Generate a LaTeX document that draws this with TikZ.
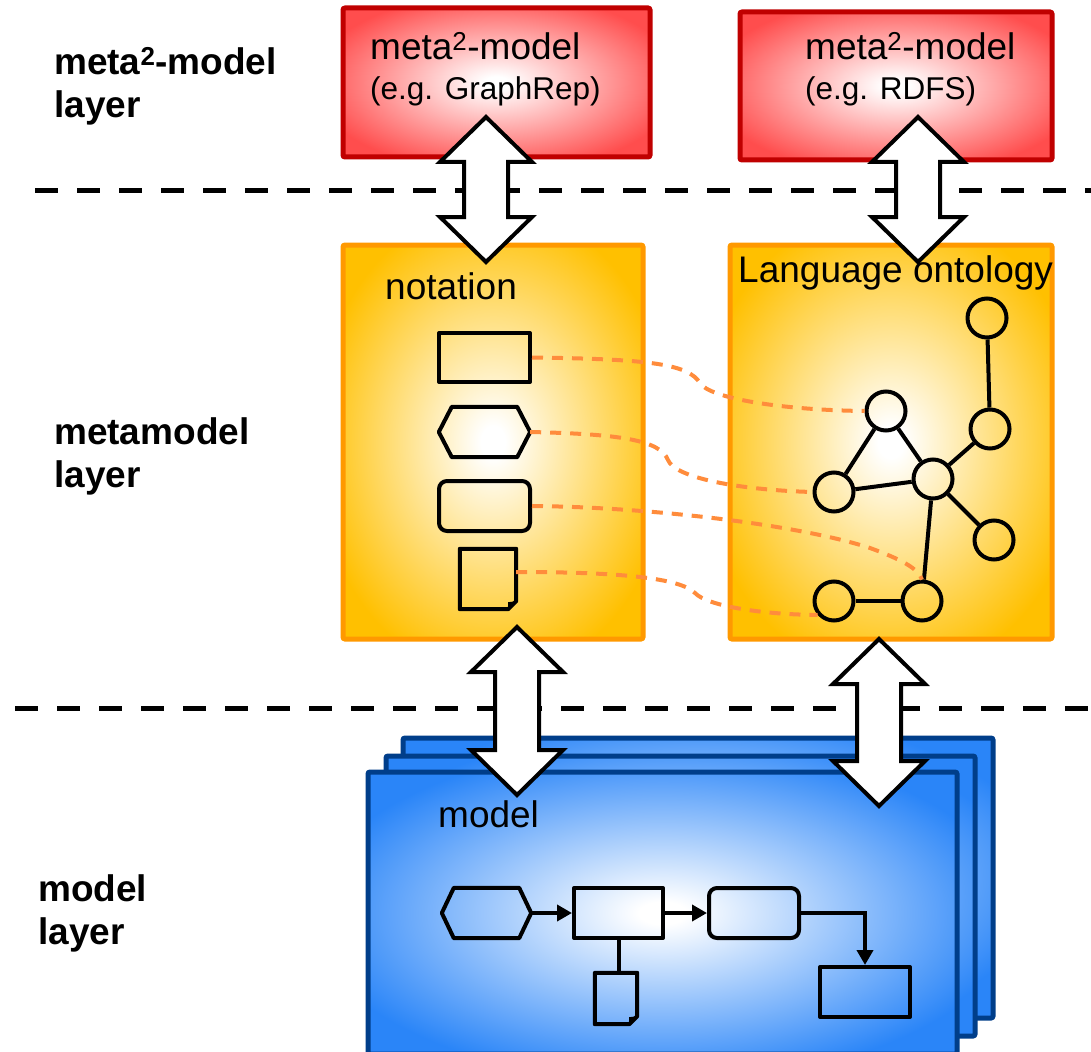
\documentclass[tikz,border=0pt]{standalone}
\usepackage{fontspec}
\setmainfont{Liberation Sans}
\usetikzlibrary{arrows.meta,calc}
\definecolor{redfill}{HTML}{FF4D4D}
\definecolor{redborder}{HTML}{C00000}
\definecolor{orfill}{HTML}{FFC000}
\definecolor{orborder}{HTML}{FF9900}
\definecolor{bluefill}{HTML}{2A85F8}
\definecolor{blueborder}{HTML}{003E8A}
\definecolor{dashor}{HTML}{FF8C3C}
\pgfdeclareradialshading{redrad}{\pgfpoint{0bp}{0bp}}{color(0bp)=(white); color(2bp)=(white); color(30bp)=(redfill); color(50bp)=(redfill)}
\pgfdeclareradialshading{orrad}{\pgfpoint{0bp}{0bp}}{color(0bp)=(white); color(2bp)=(white); color(30bp)=(orfill); color(50bp)=(orfill)}
\pgfdeclareradialshading{bluerad}{\pgfpoint{0bp}{0bp}}{color(0bp)=(white); color(2bp)=(white); color(30bp)=(bluefill); color(50bp)=(bluefill)}
\newcommand\bigdarrow[3]{\draw[bigarr] (#1,#2) -- ++(46,45) -- ++(-24,0) -- (#1+22,#3-45) -- ++(24,0) -- (#1,#3) -- ++(-46,-45) -- ++(24,0) -- (#1-22,#2+45) -- ++(-24,0) -- cycle;}
\newcommand\hexon[2]{\draw[shp] (#1.west) -- ($(#1.north west)+(#2,0)$) -- ($(#1.north east)+(-#2,0)$) -- (#1.east) -- ($(#1.south east)+(-#2,0)$) -- ($(#1.south west)+(#2,0)$) -- cycle;}
\newcommand\docon[1]{\draw[shp] (#1.north west) -- (#1.north east) -- ($(#1.south east)+(0,-8)$) -- ($(#1.south east)+(-8,0)$) -- (#1.south west) -- cycle;
  \fill ($(#1.south east)+(0,-8)$) -- ($(#1.south east)+(-8,0)$) -- ($(#1.south east)+(-8,-7)$) -- cycle;}
\begin{document}
\begin{tikzpicture}[x=1pt,y=-1pt,
  layerlbl/.style={font=\fontsize{37}{43}\selectfont\bfseries, align=left, anchor=base west, inner sep=0},
  boxtxt/.style={font=\fontsize{37}{40}\selectfont, align=left, anchor=base west, inner sep=0},
  sepline/.style={line width=5pt, dash pattern=on 23pt off 19pt},
  redbox/.style={draw=redborder, line width=5pt, shade, shading=redrad, rounded corners=2pt},
  orbox/.style={draw=orborder, line width=5pt, shade, shading=orrad, rounded corners=2pt},
  bluebox/.style={draw=blueborder, line width=5pt, shade, shading=bluerad, rounded corners=2pt},
  shp/.style={draw=black, line width=4pt, line join=round},
  ghost/.style={inner sep=0, draw=none},
  rbox/.style={shp, inner sep=0},
  circ/.style={circle, draw=black, line width=4pt, minimum size=39pt, inner sep=0},
  edge/.style={line width=4pt},
  link/.style={draw=dashor, line width=4pt, dash pattern=on 11pt off 9pt},
  flow/.style={line width=4pt, -{Triangle[length=15pt,width=16pt]}},
  bigarr/.style={draw=black, fill=white, line width=4pt, line join=miter}
]
\useasboundingbox (0,0) rectangle (1091,1051);
\fill[white] (0,0) rectangle (1091,1051);

% layer separators
\coordinate (s1a) at (35,190);
\coordinate (s1b) at (1091,190);
\coordinate (s2a) at (15,708);
\coordinate (s2b) at (1091,708);
\draw[sepline] (s1a) -- (s1b);
\draw[sepline] (s2a) -- (s2b);

% layer labels (anchor = baseline of last line)
\node[layerlbl] (lab1) at (54,118) {meta\textsuperscript{2}-model\\layer};
\node[layerlbl] (lab2) at (54,487) {metamodel\\layer};
\node[layerlbl] (lab3) at (38,944) {model\\layer};

% meta2-model boxes
\node[redbox, minimum width=307pt, minimum height=149pt] (m2a) at (496.5,82.5) {};
\node[redbox, minimum width=312pt, minimum height=148pt] (m2b) at (896,86) {};
\node[boxtxt] (m2atxt) at (370,100) {meta\textsuperscript{2}-model\\{\fontsize{31.5}{40}\selectfont (e.g. GraphRep)}};
\node[boxtxt] (m2btxt) at (805,100) {meta\textsuperscript{2}-model\\{\fontsize{31.5}{40}\selectfont (e.g. RDFS)}};

% metamodel boxes
\node[orbox, minimum width=300pt, minimum height=394pt] (nota) at (493,442) {};
\node[orbox, minimum width=322pt, minimum height=394pt] (onto) at (891,442) {};
\node[boxtxt] (notatxt) at (385,299) {notation};

% notation shapes
\node[rbox, minimum width=91pt, minimum height=49pt] (nrect) at (484.5,357.5) {};
\node[ghost, minimum width=91pt, minimum height=50pt] (nhex) at (484.5,432) {};
\hexon{nhex}{13}
\node[rbox, rounded corners=8pt, minimum width=91pt, minimum height=50pt] (nrrect) at (484.5,506) {};
\node[ghost, minimum width=56pt, minimum height=60pt] (ndoc) at (488,579) {};
\docon{ndoc}

% ontology graph
\node[circ] (c1) at (987,318) {};
\node[circ] (c2) at (990,429) {};
\node[circ] (c3) at (886,411) {};
\node[circ] (c4) at (933,479) {};
\node[circ] (c5) at (834,492) {};
\node[circ] (c6) at (994,540) {};
\node[circ] (c7) at (834,601) {};
\node[circ] (c8) at (922,601) {};
\draw[edge] (c1) -- (c2);
\draw[edge] (c2) -- (c4);
\draw[edge] (c3) -- (c4);
\draw[edge] (c3) -- (c5);
\draw[edge] (c5) -- (c4);
\draw[edge] (c4) -- (c6);
\draw[edge] (c4) -- (c8);
\draw[edge] (c7) -- (c8);

% mapping links
\draw[link] (nrect.east) .. controls (650,359) and (688,364) .. (700,383) .. controls (709,398) and (780,410) .. (c3.west);
\draw[link] (nhex.east) .. controls (620,434) and (660,440) .. (668,460) .. controls (675,478) and (740,490) .. (c5.west);
\draw[link] (nrrect.east) .. controls (650,507) and (800,525) .. (870,548) .. controls (900,559) and (918,568) .. (c8.north);
\draw[link] ($(ndoc.east)+(0,-7)$) .. controls (620,572) and (680,578) .. (695,593) .. controls (708,607) and (770,615) .. (c7.220);

% model stack
\node[bluebox, minimum width=590pt, minimum height=280pt] (mod3) at (698,878) {};
\node[bluebox, minimum width=589pt, minimum height=280pt] (mod2) at (680.5,896) {};
\node[bluebox, minimum width=589pt, minimum height=282pt] (mod1) at (662.5,913) {};
\node[boxtxt] (modtxt) at (438,827) {model};

% model flow
\node[ghost, minimum width=89pt, minimum height=50pt] (mhex) at (486.5,913) {};
\hexon{mhex}{12}
\node[rbox, minimum width=89pt, minimum height=50pt] (mr1) at (618.5,913) {};
\node[rbox, rounded corners=8pt, minimum width=90pt, minimum height=50pt] (mrr) at (754,913) {};
\node[ghost, minimum width=42pt, minimum height=51pt] (mdoc) at (616,998.5) {};
\docon{mdoc}
\node[rbox, minimum width=90pt, minimum height=50pt] (mr2) at (865,992) {};
\draw[flow] (mhex.east) -- (mr1.west);
\draw[flow] (mr1.east) -- (mrr.west);
\draw[flow] (mrr.east) -| (mr2.north);
\draw[edge] (mr1.south) -- (mr1.south |- mdoc.north);

% layer transitions
\bigdarrow{486}{117}{262}
\bigdarrow{918}{117}{262}
\bigdarrow{517}{627}{795}
\bigdarrow{879}{639}{806}

\node[boxtxt] (ontotxt) at (738,282) {Language ontology};
\end{tikzpicture}
\end{document}
